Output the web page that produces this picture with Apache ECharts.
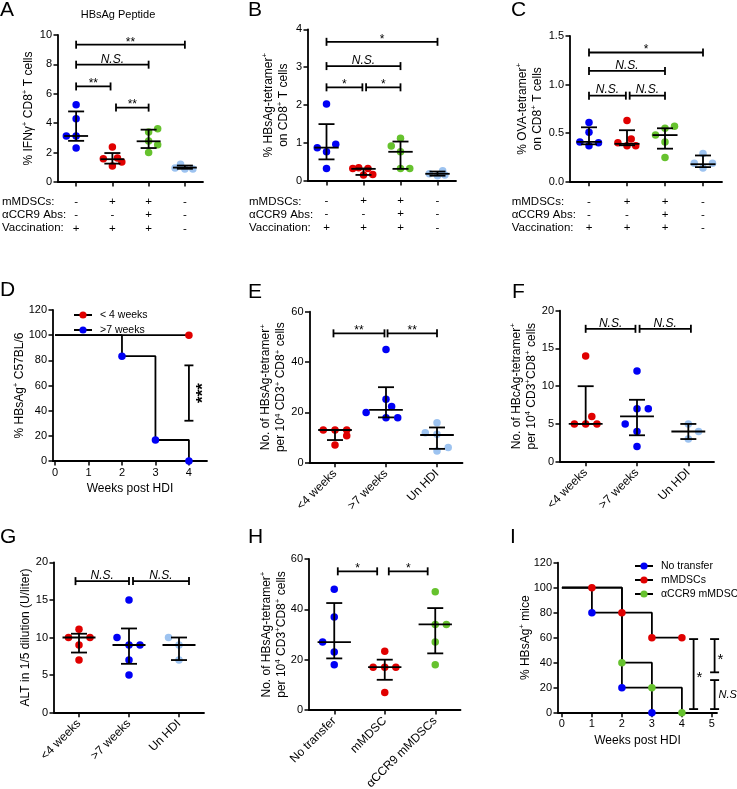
<!DOCTYPE html>
<html><head><meta charset="utf-8">
<script src="https://cdn.jsdelivr.net/npm/echarts@6/dist/echarts.min.js"></script>
<style>html,body{margin:0;padding:0;background:#fff}#c{width:737px;height:789px}</style>
</head><body><div id="c"></div>
<script>
// ================= DATA =================
const rowLabels = ['mMDSCs:', 'αCCR9 Abs:', 'Vaccination:'];
const rowMDSC = ['-', '+', '+', '-'];
const rowCCR9 = ['-', '-', '+', '-'];
const rowVacc = ['+', '+', '+', '-'];
const weekCats = ['<4 weeks', '>7 weeks', 'Un HDI'];
const transferCats = ['No transfer', 'mMDSC', 'αCCR9 mMDSCs'];

// Panel A: % IFNγ+ CD8+ T cells
const A_values = [[5.26, 4.31, 3.13, 3.13, 2.31], [2.38, 1.63, 1.59, 1.36, 1.09], [3.63, 3.40, 2.79, 2.54, 2.00], [1.20, 0.95, 0.88, 0.88]];
const A_median = [3.13, 1.55, 2.77, 0.98];
const A_low = [2.80, 1.25, 2.31, 0.90];
const A_high = [4.80, 1.97, 3.56, 1.12];
const A_sig = [[0, 3, 9.34, '**'], [0, 2, 7.98, 'N.S.'], [0, 0.95, 6.5, '**'], [1.1, 2, 5.06, '**']];

// Panel B: % HBsAg-tetramer+ on CD8+ T cells
const B_values = [[2.03, 0.97, 0.88, 0.77, 0.33], [0.35, 0.33, 0.33, 0.17, 0.16], [1.13, 0.92, 0.77, 0.33, 0.33], [0.27, 0.19, 0.16, 0.14]];
const B_median = [0.88, 0.32, 0.77, 0.19];
const B_low = [0.57, 0.16, 0.32, 0.14];
const B_high = [1.50, 0.33, 1.04, 0.25];
const B_sig = [[0, 3, 3.67, '*'], [0, 2, 3.03, 'N.S.'], [0, 0.97, 2.47, '*'], [1.07, 2, 2.47, '*']];

// Panel C: % OVA-tetramer+ on CD8+ T cells
const C_values = [[0.61, 0.51, 0.41, 0.40, 0.37], [0.63, 0.44, 0.40, 0.37, 0.37], [0.57, 0.55, 0.48, 0.41, 0.25], [0.29, 0.19, 0.19, 0.14]];
const C_median = [0.41, 0.39, 0.48, 0.18];
const C_low = [0.385, 0.375, 0.34, 0.15];
const C_high = [0.56, 0.53, 0.55, 0.27];
const C_sig = [[0, 3, 1.33, '*'], [0, 2, 1.14, 'N.S.'], [0, 0.97, 0.886, 'N.S.'], [1.07, 2, 0.886, 'N.S.']];

// Panel D: % HBsAg+ C57BL/6 (Kaplan-Meier)
const D_lt4_weeks = [0, 4];
const D_lt4_pct = [100, 100];
const D_gt7_weeks = [0, 2, 3, 4];
const D_gt7_pct = [100, 83.3, 16.7, 0];
const D_sig = [[4, 32, 76, '***']];

// Panel E: No. of HBsAg-tetramer+ per 10^4 CD3+ CD8+ cells
const E_values = [[13, 13, 13, 10.7, 7], [45, 25.2, 22.3, 19.9, 17.9, 17.9], [15.9, 11.9, 11.3, 6, 4.6]];
const E_median = [13, 21, 11];
const E_low = [9, 18, 5.5];
const E_high = [13, 30, 14];
const E_sig = [[-0.03, 0.97, 51.4, '**'], [1.03, 2, 51.4, '**']];

// Panel F: No. of HBcAg-tetramer+ per 10^4 CD3+CD8+ cells
const F_values = [[14, 6, 5, 5, 5], [12, 7, 7, 5, 4, 2], [5, 4, 3]];
const F_median = [5, 6, 4];
const F_low = [5, 3.5, 3];
const F_high = [10, 8.2, 5];
const F_sig = [[0, 0.97, 17.6, 'N.S.'], [1.05, 2.05, 17.6, 'N.S.']];

// Panel G: ALT in 1/5 dilution (U/liter)
const G_values = [[11.1, 10, 10, 9, 7], [15, 10, 9, 9, 7, 5], [10, 9, 7]];
const G_median = [10, 9, 9];
const G_low = [8, 6.5, 7];
const G_high = [10.5, 11.2, 10];
const G_sig = [[-0.07, 1, 17.5, 'N.S.'], [1.08, 2.2, 17.5, 'N.S.']];

// Panel H: No. of HBsAg-tetramer+ per 10^4 CD3+CD8+ cells
const H_values = [[48, 37, 27, 23, 18], [23.3, 17, 17, 17, 7], [47, 34, 34, 27, 18]];
const H_median = [27, 17, 34];
const H_low = [20.5, 12, 22.5];
const H_high = [42.5, 20, 40.5];
const H_sig = [[0.07, 0.85, 55.1, '*'], [1.08, 1.85, 55.1, '*']];

// Panel I: % HBsAg+ mice (Kaplan-Meier)
const I_none_weeks = [0, 1, 2, 3];
const I_none_pct = [100, 80, 20, 0];
const I_mdsc_weeks = [0, 1, 2, 3, 4];
const I_mdsc_pct = [100, 100, 80, 60, 60];
const I_ccr9_weeks = [0, 2, 3, 4];
const I_ccr9_pct = [100, 40, 20, 0];
const I_sig = [[4.39, 2.9, 58.9, '*'], [5.09, 32.3, 58.9, '*'], [5.09, 2.9, 26.1, 'N.S.']];

// ================= LAYOUT / STYLE =================
const FONT = 'Arial, "Liberation Sans", Helvetica, sans-serif';
const INK = '#000';
const BLUE = '#0000f5', RED = '#e00000', GREEN = '#66c22e', LBLUE = '#9dc3f0';

// horizontal jitter of dots inside each column (layout)
const A_spread = [[0, 0, -0.27, 0, 0], [0, 0.14, -0.25, 0.26, 0], [0.25, 0, 0, 0.25, 0], [-0.12, -0.27, 0, 0.22]];
const B_spread = [[0, 0.25, -0.25, 0, 0], [-0.13, -0.29, 0.12, 0.25, 0], [0, -0.25, 0, 0, 0.25], [0.14, -0.22, 0.2, 0]];
const C_spread = [[0, 0, -0.24, 0.25, 0], [0, 0.11, -0.24, 0, 0.23], [0.25, 0, -0.25, 0, 0], [0, -0.23, 0.25, 0]];
const E_spread = [[-0.23, 0, 0.23, 0.23, 0], [0, 0, 0.11, -0.39, 0, 0.23], [0, -0.23, 0, 0.22, 0]];
const F_spread = [[0, 0.12, -0.22, 0, 0.22], [0, 0, 0.22, -0.23, 0, 0], [0, 0.2, 0]];
const G_spread = [[0, -0.21, 0.22, 0, 0], [0, -0.24, 0, 0.22, 0, 0], [-0.21, 0, 0]];
const H_spread = [[0, 0, -0.23, 0, 0], [0, -0.23, 0, 0.22, 0], [0, 0, 0.22, 0, 0]];

const option = {
  animation: false, backgroundColor: '#fff',
  textStyle: { fontFamily: FONT, color: INK },
  grid: [], xAxis: [], yAxis: [], series: [], legend: [], graphic: []
};

const LW = 1.8;
const DOT = 7.5;
const supRich = {
  n: { fontSize: 12, fontFamily: FONT, color: INK, lineHeight: 15 },
  s: { fontSize: 8, fontFamily: FONT, color: INK, verticalAlign: 'top', lineHeight: 15 }
};
function nameStyle() {
  return { fontSize: 12, fontFamily: FONT, color: INK, lineHeight: 15, rich: supRich };
}
function yAxisFor(g, ymax, interval, name, gap, fmt) {
  return {
    type: 'value', gridIndex: g, min: 0, max: ymax, interval: interval,
    axisLine: { show: true, onZero: false, lineStyle: { color: INK, width: LW } },
    axisTick: { show: true, length: 4.5, lineStyle: { color: INK, width: 1.5 } },
    axisLabel: { color: INK, fontSize: 11, fontFamily: FONT, margin: 6, formatter: fmt || (v => String(v)) },
    splitLine: { show: false },
    name: name, nameLocation: 'middle', nameGap: gap, nameMoveOverlap: false,
    nameTextStyle: nameStyle()
  };
}

function errRender(params, api) {
  const x = api.value(0), m = api.value(1), lo = api.value(2), hi = api.value(3);
  const pm = api.coord([x, m]), pl = api.coord([x, lo]), ph = api.coord([x, hi]);
  const band = api.size([1, 0])[0];
  const mh = band * 0.33, ch = 8;
  const st = { stroke: INK, lineWidth: LW };
  return { type: 'group', children: [
    { type: 'line', shape: { x1: pm[0], y1: pl[1], x2: pm[0], y2: ph[1] }, style: st },
    { type: 'line', shape: { x1: pm[0] - mh, y1: pm[1], x2: pm[0] + mh, y2: pm[1] }, style: st },
    { type: 'line', shape: { x1: pm[0] - ch, y1: pl[1], x2: pm[0] + ch, y2: pl[1] }, style: st },
    { type: 'line', shape: { x1: pm[0] - ch, y1: ph[1], x2: pm[0] + ch, y2: ph[1] }, style: st }
  ]};
}
function hBracket(sig) {
  return function (params, api) {
    const s = sig[params.dataIndex];
    const p1 = api.coord([s[0], s[2]]), p2 = api.coord([s[1], s[2]]);
    const st = { stroke: INK, lineWidth: LW };
    const ns = s[3] === 'N.S.';
    return { type: 'group', children: [
      { type: 'line', shape: { x1: p1[0], y1: p1[1], x2: p2[0], y2: p2[1] }, style: st },
      { type: 'line', shape: { x1: p1[0], y1: p1[1] - 4, x2: p1[0], y2: p1[1] + 4 }, style: st },
      { type: 'line', shape: { x1: p2[0], y1: p2[1] - 4, x2: p2[0], y2: p2[1] + 4 }, style: st },
      { type: 'text', x: (p1[0] + p2[0]) / 2, y: p1[1] + (ns ? 0.5 : 3.5),
        style: { text: s[3], fill: INK, font: (ns ? 'italic 12px ' : '12px ') + FONT, align: 'center', verticalAlign: 'bottom' } }
    ]};
  };
}
function vBracket(sig) {
  return function (params, api) {
    const s = sig[params.dataIndex];
    const p1 = api.coord([s[0], s[1]]), p2 = api.coord([s[0], s[2]]);
    const st = { stroke: INK, lineWidth: LW };
    const mid = (p1[1] + p2[1]) / 2;
    let label;
    if (s[3] === '***') {
      label = { type: 'text', x: p1[0] + 14, y: mid, rotation: Math.PI / 2,
        style: { text: s[3], fill: INK, font: 'bold 17px ' + FONT, align: 'center', verticalAlign: 'middle' } };
    } else if (s[3] === 'N.S.') {
      label = { type: 'text', x: p1[0] + 4, y: mid,
        style: { text: s[3], fill: INK, font: 'italic 11px ' + FONT, align: 'left', verticalAlign: 'middle' } };
    } else {
      label = { type: 'text', x: p1[0] + 3, y: mid + 4,
        style: { text: s[3], fill: INK, font: '15px ' + FONT, align: 'left', verticalAlign: 'middle' } };
    }
    return { type: 'group', children: [
      { type: 'line', shape: { x1: p1[0], y1: p1[1], x2: p2[0], y2: p2[1] }, style: st },
      { type: 'line', shape: { x1: p1[0] - 4.5, y1: p1[1], x2: p1[0] + 4.5, y2: p1[1] }, style: st },
      { type: 'line', shape: { x1: p2[0] - 4.5, y1: p2[1], x2: p2[0] + 4.5, y2: p2[1] }, style: st },
      label
    ]};
  };
}

function addDot(c) {
  const g = option.grid.length;
  option.grid.push({ left: c.box[0], top: c.box[1], width: c.box[2], height: c.box[3], containLabel: false, outerBoundsMode: 'none' });
  const n = c.values.length;
  const ticks = c.values.map((_, i) => i);
  option.xAxis.push({
    type: 'value', gridIndex: g, min: -0.5, max: n - 0.5,
    axisLine: { show: true, onZero: false, lineStyle: { color: INK, width: LW } },
    axisTick: { show: true, length: 4.5, lineStyle: { color: INK, width: 1.5 }, customValues: ticks },
    axisLabel: Object.assign({ customValues: ticks, color: INK, fontFamily: FONT, formatter: v => c.xlabel(Math.round(v)) }, c.xlab),
    splitLine: { show: false }
  });
  option.yAxis.push(yAxisFor(g, c.ymax, c.yint, c.name, c.gap, c.yfmt));
  c.values.forEach((vals, i) => {
    option.series.push({ type: 'scatter', name: 'p' + g + '_' + i, xAxisIndex: g, yAxisIndex: g, symbol: 'circle', symbolSize: DOT,
      itemStyle: { color: c.colors[i], opacity: 1 }, silent: true, z: 2,
      data: vals.map((v, k) => [i + c.spread[i][k], v]) });
  });
  option.series.push({ type: 'custom', xAxisIndex: g, yAxisIndex: g, renderItem: errRender, silent: true, z: 3,
    encode: { x: 0, y: [1, 2, 3] }, data: c.median.map((m, i) => [i, m, c.low[i], c.high[i]]) });
  option.series.push({ type: 'custom', xAxisIndex: g, yAxisIndex: g, renderItem: hBracket(c.sig), silent: true, z: 3,
    encode: { x: [0, 1], y: 2 }, data: c.sig.map(s => [s[0], s[1], s[2]]) });
}

function addKM(c) {
  const g = option.grid.length;
  option.grid.push({ left: c.box[0], top: c.box[1], width: c.box[2], height: c.box[3], containLabel: false, outerBoundsMode: 'none' });
  option.xAxis.push({
    type: 'value', gridIndex: g, min: c.xmin, max: c.xmax,
    axisLine: { show: true, onZero: false, lineStyle: { color: INK, width: LW } },
    axisTick: { show: true, length: 4.5, lineStyle: { color: INK, width: 1.5 }, customValues: c.xticks },
    axisLabel: { customValues: c.xticks, color: INK, fontSize: 11, fontFamily: FONT, margin: 6 },
    splitLine: { show: false },
    name: 'Weeks post HDI', nameLocation: 'middle', nameGap: 22, nameMoveOverlap: false,
    nameTextStyle: { fontSize: 12, fontFamily: FONT, color: INK }
  });
  option.yAxis.push(yAxisFor(g, 120, 20, c.name, c.gap));
  c.curves.forEach(cv => {
    option.series.push({ type: 'line', name: cv.name, xAxisIndex: g, yAxisIndex: g, step: 'end', silent: true,
      symbol: 'circle', symbolSize: DOT, showSymbol: true, showAllSymbol: true, z: 2,
      lineStyle: { color: INK, width: LW }, itemStyle: { color: cv.color, opacity: 1 },
      data: cv.weeks.map((w, k) => ({ value: [w, cv.pct[k]], symbol: k === 0 ? 'none' : 'circle' })) });
  });
  option.series.push({ type: 'custom', xAxisIndex: g, yAxisIndex: g, renderItem: vBracket(c.sig), silent: true, z: 3,
    encode: { x: 0, y: [1, 2] }, data: c.sig.map(s => [s[0], s[1], s[2]]) });
  option.legend.push(Object.assign({ orient: 'vertical', selectedMode: false, itemWidth: 18, itemHeight: 9,
    data: c.curves.map(cv => cv.name),
    textStyle: { fontSize: 10.5, fontFamily: FONT, color: INK, padding: [0, 0, 0, 3] } }, c.legend));
}

const abcXlab = { fontSize: 11.5, lineHeight: 13.4, margin: 13, rotate: 0 };
const abcLabel = i => rowMDSC[i] + '\n' + rowCCR9[i] + '\n' + rowVacc[i];
const rotXlab = { fontSize: 12, margin: 9, rotate: 45 };
const fourCol = [BLUE, RED, GREEN, LBLUE];

addDot({ box: [58, 35, 145, 147], values: A_values, spread: A_spread, median: A_median, low: A_low, high: A_high, sig: A_sig,
  colors: fourCol, ymax: 10, yint: 2, name: '{n|% IFNγ}{s|+}{n| CD8}{s|+}{n| T cells}', gap: 22, xlabel: abcLabel, xlab: abcXlab });
addDot({ box: [308, 29.3, 148, 151.7], values: B_values, spread: B_spread, median: B_median, low: B_low, high: B_high, sig: B_sig,
  colors: fourCol, ymax: 4, yint: 1, name: '{n|% HBsAg-tetramer}{s|+}\n{n|on CD8}{s|+}{n| T cells}', gap: 17, xlabel: abcLabel, xlab: abcXlab });
addDot({ box: [570, 36, 152, 145.7], values: C_values, spread: C_spread, median: C_median, low: C_low, high: C_high, sig: C_sig,
  colors: fourCol, ymax: 1.5, yint: 0.5, yfmt: v => v.toFixed(1), name: '{n|% OVA-tetramer}{s|+}\n{n|on CD8}{s|+}{n| T cells}', gap: 25, xlabel: abcLabel, xlab: abcXlab });
addKM({ box: [53, 310, 154, 151], xmin: -0.06, xmax: 4.54, xticks: [0, 1, 2, 3, 4], name: '{n|% HBsAg}{s|+}{n| C57BL/6}', gap: 26,
  curves: [{ name: '< 4 weeks', weeks: D_lt4_weeks, pct: D_lt4_pct, color: RED }, { name: '>7 weeks', weeks: D_gt7_weeks, pct: D_gt7_pct, color: BLUE }],
  sig: D_sig, legend: { left: 68, top: 304.5, itemGap: 4 } });
addDot({ box: [309.5, 311.7, 153, 151], values: E_values, spread: E_spread, median: E_median, low: E_low, high: E_high, sig: E_sig,
  colors: [RED, BLUE, LBLUE], ymax: 60, yint: 20, name: '{n|No. of HBsAg-tetramer}{s|+}\n{n|per 10}{s|4}{n| CD3}{s|+}{n| CD8}{s|+}{n| cells}', gap: 21, xlabel: i => weekCats[i], xlab: rotXlab });
addDot({ box: [560, 310.7, 154, 151], values: F_values, spread: F_spread, median: F_median, low: F_low, high: F_high, sig: F_sig,
  colors: [RED, BLUE, LBLUE], ymax: 20, yint: 5, name: '{n|No. of HBcAg-tetramer}{s|+}\n{n|per 10}{s|4}{n| CD3}{s|+}{n|CD8}{s|+}{n| cells}', gap: 21, xlabel: i => weekCats[i], xlab: rotXlab });
addDot({ box: [54, 562.3, 150, 150.4], values: G_values, spread: G_spread, median: G_median, low: G_low, high: G_high, sig: G_sig,
  colors: [RED, BLUE, LBLUE], ymax: 20, yint: 5, name: 'ALT in 1/5 dilution (U/liter)', gap: 21, xlabel: i => weekCats[i], xlab: rotXlab });
addDot({ box: [309, 559, 151.5, 151], values: H_values, spread: H_spread, median: H_median, low: H_low, high: H_high, sig: H_sig,
  colors: [BLUE, RED, GREEN], ymax: 60, yint: 20, name: '{n|No. of HBsAg-tetramer}{s|+}\n{n|per 10}{s|4}{n| CD3}{s|+}{n|CD8}{s|+}{n| cells}', gap: 20, xlabel: i => transferCats[i], xlab: rotXlab });
addKM({ box: [558, 562.7, 159, 150], xmin: -0.13, xmax: 5.17, xticks: [0, 1, 2, 3, 4, 5], name: '{n|% HBsAg}{s|+}{n| mice}', gap: 25,
  curves: [{ name: 'No transfer', weeks: I_none_weeks, pct: I_none_pct, color: BLUE },
           { name: 'mMDSCs', weeks: I_mdsc_weeks, pct: I_mdsc_pct, color: RED },
           { name: 'αCCR9 mMDSCs', weeks: I_ccr9_weeks, pct: I_ccr9_pct, color: GREEN }],
  sig: I_sig, legend: { left: 629, top: 555.5, itemGap: 3 } });

// ---- text decorations ----
const letters = [['A', 0, 10.5], ['B', 248, 10.5], ['C', 511, 10.5], ['D', 0, 290.5], ['E', 248, 292.5], ['F', 512, 292.5], ['G', 0, 537.5], ['H', 248, 537.5], ['I', 510, 537.5]];
letters.forEach(([t, x, y]) => option.graphic.push({ type: 'text', x: x, y: y, silent: true,
  style: { text: t, fill: INK, font: '21px ' + FONT, align: 'left', verticalAlign: 'middle' } }));
option.graphic.push({ type: 'text', x: 118, y: 15, silent: true,
  style: { text: 'HBsAg Peptide', fill: INK, font: '11px ' + FONT, align: 'center', verticalAlign: 'middle' } });
[2, 249, 511.7].forEach(x => rowLabels.forEach((t, r) => option.graphic.push({ type: 'text', x: x, y: 201.5 + r * 13.4, silent: true,
  style: { text: t, fill: INK, font: '11.5px ' + FONT, align: 'left', verticalAlign: 'middle' } })));

const chart = echarts.init(document.getElementById('c'), null, { renderer: 'canvas' });
chart.setOption(option);
</script></body></html>
